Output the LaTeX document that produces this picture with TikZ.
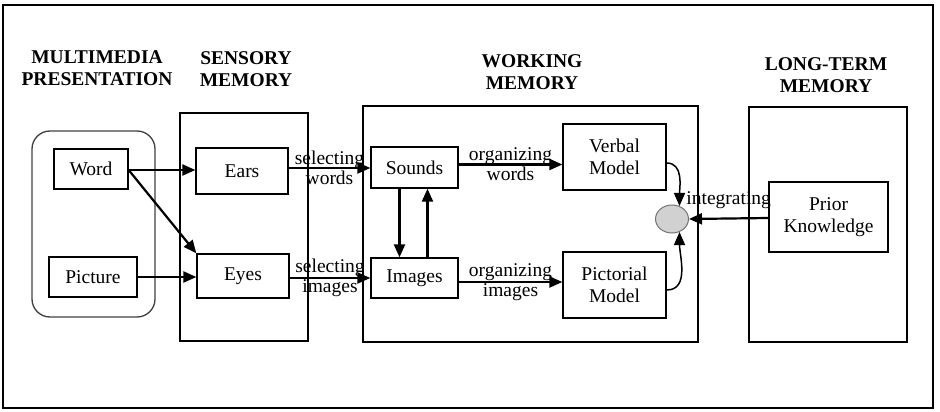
\documentclass[tikz,border=0pt]{standalone}
\usepackage{fontspec}
\setmainfont{Liberation Serif}
\usetikzlibrary{arrows.meta,shapes.geometric}
\tikzset{
  box/.style={draw, line width=1.3pt, inner sep=0pt, align=center},
  region/.style={draw, line width=1.3pt, inner sep=0pt},
  head/.style={font=\fontsize{19.5}{22.5}\selectfont\bfseries, align=center},
  flow/.style={line width=2.2pt, -{Triangle[length=13pt,width=11pt]}},
  lbl/.style={align=center, font=\fontsize{19.5}{20}\selectfont}
}
\begin{document}
\begin{tikzpicture}[x=1pt,y=-1pt,font=\fontsize{19.5}{22.5}\selectfont]
  \useasboundingbox (0,0) rectangle (940,412);
  \draw [line width=1.6pt] (3,5) rectangle (933,408);
  \node [head] (mmhead) at (97,68) {MULTIMEDIA\\PRESENTATION};
  \node [head] (smhead) at (246,69) {SENSORY\\MEMORY};
  \node [head] (wmhead) at (532,72) {WORKING\\MEMORY};
  \node [head] (ltmhead) at (826,75) {LONG-TERM\\MEMORY};
  \node [region, rounded corners=18pt, draw=black!75, minimum width=123pt, minimum height=186pt] (present) at (93.5,224) {};
  \node [region, minimum width=128pt, minimum height=228pt] (sensory) at (244,227) {};
  \node [region, minimum width=335pt, minimum height=236pt] (working) at (530.5,224) {};
  \node [region, minimum width=158pt, minimum height=235pt] (longterm) at (828,224.5) {};
  \node [box, minimum width=74pt, minimum height=40pt] (word) at (91,169) {Word};
  \node [box, minimum width=88pt, minimum height=40pt] (picture) at (93,277) {Picture};
  \node [box, minimum width=92pt, minimum height=46pt] (ears) at (242,171) {Ears};
  \node [box, minimum width=92pt, minimum height=44pt] (eyes) at (243,276) {Eyes};
  \node [box, minimum width=87pt, minimum height=41pt] (sounds) at (414.5,167.5) {Sounds};
  \node [box, minimum width=87pt, minimum height=40pt] (images) at (414.5,278) {Images};
  \node [box, minimum width=103pt, minimum height=66pt] (verbal) at (614.5,157) {Verbal\\Model};
  \node [box, minimum width=103pt, minimum height=66pt] (pictorial) at (614.5,285) {Pictorial\\Model};
  \node [box, minimum width=119pt, minimum height=70pt] (prior) at (828.5,217) {Prior\\Knowledge};
  \node [ellipse, draw=black!55, fill=black!18, line width=1pt, minimum width=33pt, minimum height=28pt, inner sep=0pt] (integ) at (672,219) {};
  \draw [flow] ([yshift=-1pt]word.east) -- ([yshift=-1pt]word.east -| ears.west);
  \draw [flow] ([yshift=-1pt]word.east) -- (eyes.north west);
  \draw [flow] (picture.east) -- (picture.east -| eyes.west);
  \draw [flow] ([yshift=3pt]ears.east) -- ([yshift=3pt]ears.east -| sounds.west)
    node [lbl, midway] {selecting\\words};
  \draw [flow] ([yshift=-2pt]eyes.east) -- ([yshift=-2pt]eyes.east -| images.west)
    node [lbl, midway] {selecting\\images};
  \draw [flow] ([yshift=3pt]sounds.east) -- ([yshift=3pt]sounds.east -| verbal.west)
    node [lbl, midway] {organizing\\words};
  \draw [flow] ([yshift=-4pt]images.east) -- ([yshift=-4pt]images.east -| pictorial.west)
    node [lbl, midway] {organizing\\images};
  \draw [flow] ([xshift=-15pt]sounds.south) -- ([xshift=-15pt]sounds.south |- images.north);
  \draw [flow] ([xshift=13pt]images.north) -- ([xshift=13pt]images.north |- sounds.south);
  \draw [flow, line width=1.5pt] ([yshift=-6pt]verbal.east) to [out=0, in=90] (integ.60);
  \draw [flow, line width=1.5pt] ([yshift=-5pt]pictorial.east) to [out=0, in=-90] (integ.-60);
  \draw [flow] ([yshift=-1pt]prior.west) -- (integ.east)
    node [lbl, midway, above=5pt] {integrating};
\end{tikzpicture}
\end{document}
